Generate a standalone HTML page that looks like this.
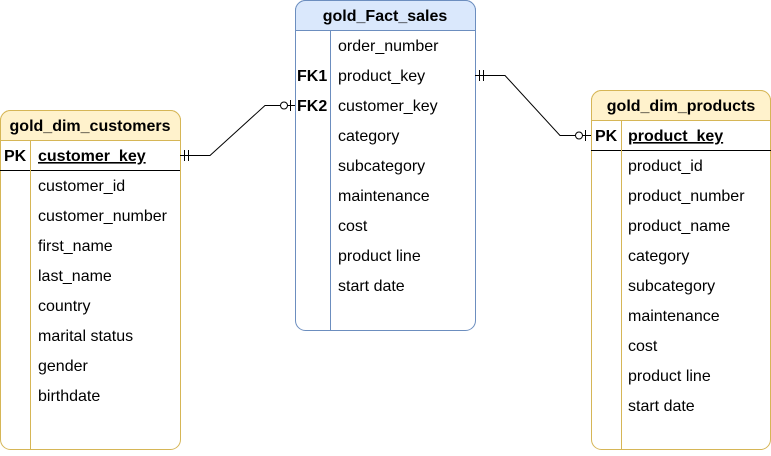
<!DOCTYPE html>
<html><head><meta charset="utf-8"><style>
body{margin:0;background:#fff;}
svg text{font-family:"Liberation Sans",Arial,sans-serif;font-size:16px;fill:#000;}
.b{font-weight:bold;}
</style></head><body>
<svg width="771" height="451" viewBox="0 0 771 451" xmlns="http://www.w3.org/2000/svg">
<!-- Fact table -->
<rect x="295.5" y="0.5" width="180" height="330" rx="10" fill="#fff" stroke="#6c8ebf"/>
<path d="M295.5,30.5 V10.5 a10,10 0 0 1 10,-10 H465.5 a10,10 0 0 1 10,10 V30.5 Z" fill="#dae8fc" stroke="#6c8ebf"/>
<line x1="330.5" y1="30.5" x2="330.5" y2="330" stroke="#6c8ebf"/>
<text x="385" y="21" text-anchor="middle" class="b">gold_Fact_sales</text>
<g>
<text x="338" y="51">order_number</text>
<text x="297" y="81" class="b">FK1</text><text x="338" y="81">product_key</text>
<text x="297" y="111" class="b">FK2</text><text x="338" y="111">customer_key</text>
<text x="338" y="141">category</text>
<text x="338" y="171">subcategory</text>
<text x="338" y="201">maintenance</text>
<text x="338" y="231">cost</text>
<text x="338" y="261">product line</text>
<text x="338" y="291">start date</text>
</g>
<!-- Customers -->
<rect x="0.5" y="110.5" width="180" height="339" rx="10" fill="#fff" stroke="#d6b656"/>
<path d="M0.5,140.5 V120.5 a10,10 0 0 1 10,-10 H170.5 a10,10 0 0 1 10,10 V140.5 Z" fill="#fff2cc" stroke="#d6b656"/>
<line x1="0" y1="170.5" x2="180" y2="170.5" stroke="#000"/>
<line x1="30.5" y1="140.5" x2="30.5" y2="449" stroke="#d6b656"/>
<text x="90" y="131" text-anchor="middle" class="b">gold_dim_customers</text>
<text x="4" y="161" class="b">PK</text>
<text x="38" y="161" class="b" text-decoration="underline">customer_key</text>
<text x="38" y="191">customer_id</text>
<text x="38" y="221">customer_number</text>
<text x="38" y="251">first_name</text>
<text x="38" y="281">last_name</text>
<text x="38" y="311">country</text>
<text x="38" y="341">marital status</text>
<text x="38" y="371">gender</text>
<text x="38" y="401">birthdate</text>
<!-- Products -->
<rect x="591.5" y="90.5" width="179" height="359" rx="10" fill="#fff" stroke="#d6b656"/>
<path d="M591.5,120.5 V100.5 a10,10 0 0 1 10,-10 H760.5 a10,10 0 0 1 10,10 V120.5 Z" fill="#fff2cc" stroke="#d6b656"/>
<line x1="591" y1="150.5" x2="771" y2="150.5" stroke="#000"/>
<line x1="621.5" y1="120.5" x2="621.5" y2="449" stroke="#d6b656"/>
<text x="681" y="111" text-anchor="middle" class="b">gold_dim_products</text>
<text x="595" y="141" class="b">PK</text>
<text x="628" y="141" class="b" text-decoration="underline">product_key</text>
<text x="628" y="171">product_id</text>
<text x="628" y="201">product_number</text>
<text x="628" y="231">product_name</text>
<text x="628" y="261">category</text>
<text x="628" y="291">subcategory</text>
<text x="628" y="321">maintenance</text>
<text x="628" y="351">cost</text>
<text x="628" y="381">product line</text>
<text x="628" y="411">start date</text>
<!-- connectors -->
<g stroke="#000" fill="none" stroke-width="1">
<polyline points="180,155.5 210,155.5 265,105.5 280,105.5"/>
<line x1="184.5" y1="150" x2="184.5" y2="161"/>
<line x1="188.5" y1="150" x2="188.5" y2="161"/>
<circle cx="284" cy="105.5" r="3.5" fill="#fff"/>
<line x1="287.5" y1="105.5" x2="295" y2="105.5"/>
<line x1="290.5" y1="100" x2="290.5" y2="111"/>
<polyline points="475,75.5 505,75.5 560,135.5 575,135.5"/>
<line x1="479.5" y1="70" x2="479.5" y2="81"/>
<line x1="483.5" y1="70" x2="483.5" y2="81"/>
<circle cx="579" cy="135.5" r="3.5" fill="#fff"/>
<line x1="582.5" y1="135.5" x2="591" y2="135.5"/>
<line x1="585.5" y1="130" x2="585.5" y2="141"/>
</g>
</svg>
</body></html>
